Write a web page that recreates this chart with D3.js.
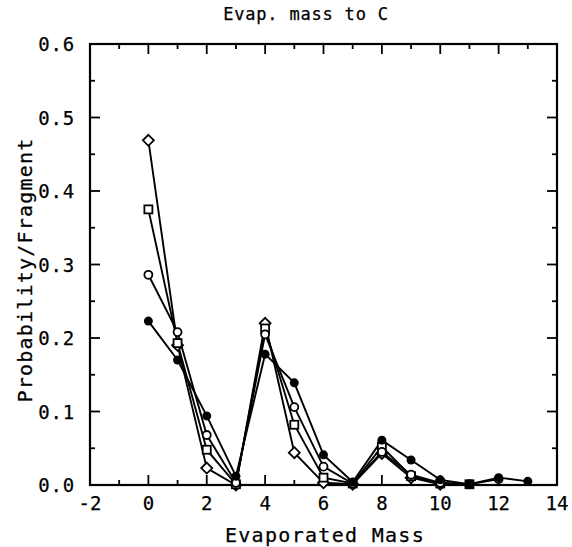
<!DOCTYPE html>
<html>
<head>
<meta charset="utf-8">
<script src="https://cdn.jsdelivr.net/npm/d3@7.9.0/dist/d3.min.js"></script>
<style>
  body { margin: 0; background: #fff; }
  text { font-family: "DejaVu Sans Mono", monospace; fill: #000; stroke: #000; stroke-width: 0.25; }
</style>
</head>
<body>
<svg id="chart" width="572" height="547"></svg>
<script>
// evaporated mass values (x) and the four curves
const mass = [0, 1, 2, 3, 4, 5, 6, 7, 8, 9, 10, 11, 12, 13];
const filledCircle = [0.223, 0.170, 0.094, 0.012, 0.178, 0.139, 0.041, 0.004, 0.061, 0.034, 0.007, 0.001, 0.010, 0.005];
const openCircle = [0.286, 0.208, 0.068, 0.003, 0.205, 0.106, 0.025, 0.002, 0.045, 0.014, 0.003, 0.001, 0.008];
const openSquare = [0.375, 0.193, 0.048, 0.001, 0.213, 0.082, 0.010, 0.002, 0.052, 0.012, 0.002, 0.001];
const openDiamond = [0.469, 0.190, 0.023, 0.000, 0.220, 0.044, 0.003, 0.001, 0.043, 0.010, 0.001];

const xTicks = [-2, 0, 2, 4, 6, 8, 10, 12, 14];
const yTicks = [0.0, 0.1, 0.2, 0.3, 0.4, 0.5, 0.6];

const svg = d3.select('#chart');
const pLeft = 90, pRight = 557, pTop = 44, pBottom = 485;

const x = d3.scaleLinear().domain([-2, 14]).range([pLeft, pRight]);
const y = d3.scaleLinear().domain([0, 0.6]).range([pBottom, pTop]);

// frame
svg.append('rect')
  .attr('x', pLeft).attr('y', pTop)
  .attr('width', pRight - pLeft).attr('height', pBottom - pTop)
  .attr('fill', 'none').attr('stroke', '#000').attr('stroke-width', 2.2);

// x ticks, inward on bottom and top
const xMinor = d3.range(-1, 14, 2);
const g = svg.append('g').attr('stroke', '#000').attr('stroke-width', 1.8);
xTicks.forEach(t => {
  g.append('line').attr('x1', x(t)).attr('x2', x(t)).attr('y1', pBottom).attr('y2', pBottom - 10);
  g.append('line').attr('x1', x(t)).attr('x2', x(t)).attr('y1', pTop).attr('y2', pTop + 10);
});
xMinor.forEach(t => {
  g.append('line').attr('x1', x(t)).attr('x2', x(t)).attr('y1', pBottom).attr('y2', pBottom - 5);
  g.append('line').attr('x1', x(t)).attr('x2', x(t)).attr('y1', pTop).attr('y2', pTop + 5);
});
// y ticks, inward on left and right
const yMinor = d3.range(0.05, 0.6, 0.1);
yTicks.forEach(t => {
  g.append('line').attr('x1', pLeft).attr('x2', pLeft + 10).attr('y1', y(t)).attr('y2', y(t));
  g.append('line').attr('x1', pRight).attr('x2', pRight - 10).attr('y1', y(t)).attr('y2', y(t));
});
yMinor.forEach(t => {
  g.append('line').attr('x1', pLeft).attr('x2', pLeft + 5).attr('y1', y(t)).attr('y2', y(t));
  g.append('line').attr('x1', pRight).attr('x2', pRight - 5).attr('y1', y(t)).attr('y2', y(t));
});

// tick labels
svg.selectAll('.xl').data(xTicks).enter().append('text')
  .attr('x', d => x(d)).attr('y', 510)
  .attr('text-anchor', 'middle').attr('font-size', 19)
  .text(d => d);
svg.selectAll('.yl').data(yTicks).enter().append('text')
  .attr('x', 75).attr('y', d => y(d) + 7)
  .attr('text-anchor', 'end').attr('font-size', 19).attr('letter-spacing', 0.8)
  .text(d => d.toFixed(1));

// titles
svg.append('text').attr('x', 306).attr('y', 20).attr('text-anchor', 'middle')
  .attr('font-size', 17).attr('letter-spacing', 0.8).text('Evap. mass to C');
svg.append('text').attr('x', 325).attr('y', 542).attr('text-anchor', 'middle')
  .attr('font-size', 20).attr('letter-spacing', 1.3).text('Evaporated Mass');
svg.append('text').attr('transform', 'translate(32,270) rotate(-90)')
  .attr('text-anchor', 'middle').attr('font-size', 20).attr('letter-spacing', 1.2)
  .text('Probability/Fragment');

// curves
const line = d3.line().x((d, i) => x(mass[i])).y(d => y(d));
const series = [
  { vals: openDiamond, shape: 'diamond' },
  { vals: openSquare, shape: 'square' },
  { vals: openCircle, shape: 'ocircle' },
  { vals: filledCircle, shape: 'fcircle' }
];
series.forEach(s => {
  svg.append('path').attr('d', line(s.vals))
    .attr('fill', 'none').attr('stroke', '#000').attr('stroke-width', 1.9);
});
series.forEach(s => {
  const pts = svg.append('g');
  s.vals.forEach((v, i) => {
    const cx = x(mass[i]), cy = y(v);
    if (s.shape === 'fcircle') {
      pts.append('circle').attr('cx', cx).attr('cy', cy).attr('r', 4.5).attr('fill', '#000');
    } else if (s.shape === 'ocircle') {
      pts.append('circle').attr('cx', cx).attr('cy', cy).attr('r', 4)
        .attr('fill', '#fff').attr('stroke', '#000').attr('stroke-width', 1.8);
    } else if (s.shape === 'square') {
      pts.append('rect').attr('x', cx - 4).attr('y', cy - 4).attr('width', 8).attr('height', 8)
        .attr('fill', '#fff').attr('stroke', '#000').attr('stroke-width', 1.8);
    } else {
      pts.append('path').attr('d', `M${cx},${cy - 5.5}L${cx + 5.5},${cy}L${cx},${cy + 5.5}L${cx - 5.5},${cy}Z`)
        .attr('fill', '#fff').attr('stroke', '#000').attr('stroke-width', 1.8);
    }
  });
});
</script>
</body>
</html>
